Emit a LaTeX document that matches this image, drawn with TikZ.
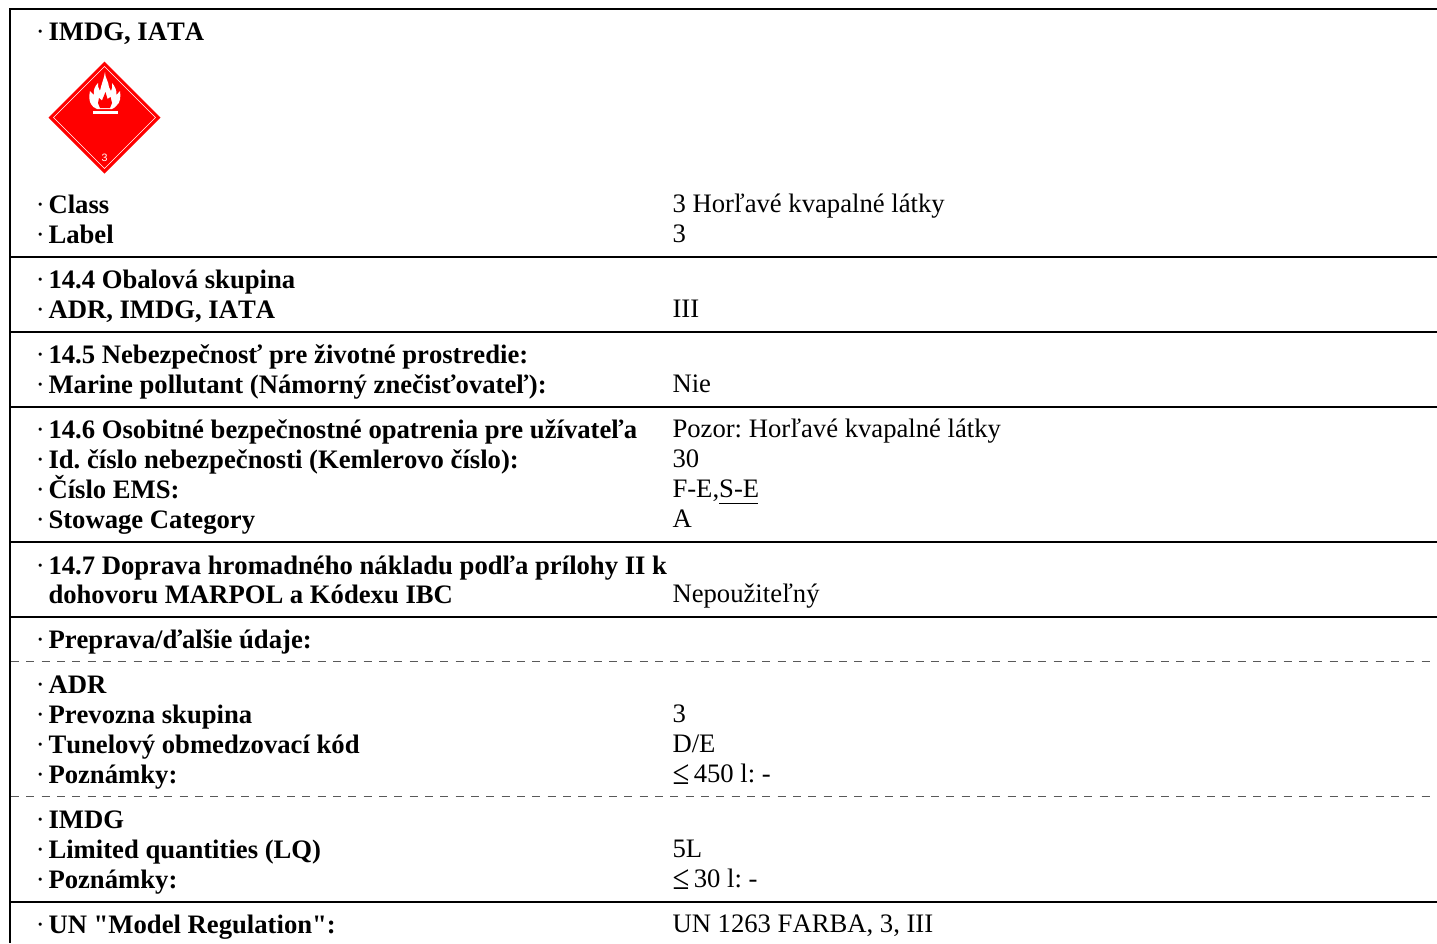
\documentclass[tikz,border=0pt]{standalone}
\usepackage{fontspec}
\setmainfont[Ligatures=TeXOff,Kerning=Off]{Liberation Serif}
\usetikzlibrary{calc}
\tikzset{
 x=0.75pt,y=-0.75pt,
 base/.style={inner sep=0pt,outer sep=0pt,anchor=base west,font=\fontsize{20}{24}\selectfont},
 lab/.style={base,font=\fontsize{20}{24}\selectfont\bfseries},
 dotm/.style={base,font=\fontsize{20}{24}\selectfont},
 val/.style={base},
 rule/.style={draw=black,line width=1.5pt},
 dashrule/.style={draw=black!65,line width=0.9pt,dash pattern=on 6pt off 5.5pt},
}
\newcommand{\lr}[4]{\node[dotm] (d#1) at (36,#3) {·}; \node[lab] (#1) at (48.5,#3) {#2}; \ifx&#4&\else\node[val] (v#1) at (672.5,#3-1) {#4};\fi}
\newcommand{\leqm}{\rlap{\raisebox{-1.6pt}{\scalebox{1.15}[1.3]{≤}}}\phantom{≤}}
\begin{document}
\frenchspacing
\begin{tikzpicture}
\useasboundingbox (0,0) rectangle (1437,943);
\fill[white] (0,0) rectangle (1437,943);
% frame
\draw[rule] (1437,8.5) -- (9.5,8.5) -- (9.5,943);
\foreach \yy in {256.5,331.5,406.5,541.5,616.5,901.5} \draw[rule] (9.5,\yy) -- (1437,\yy);
\foreach \yy in {661.5,796.5} \draw[dashrule] (11,\yy) -- (1437,\yy);
% placard
\fill[red] (104.5,61.5) -- (160.5,117.5) -- (104.5,173.5) -- (48.5,117.5) -- cycle;
\draw[white,line width=0.3pt] (104.5,66.5) -- (155.5,117.5) -- (104.5,168.5) -- (53.5,117.5) -- cycle;
\fill[white] (93,111) rectangle (118,114);
\fill[white] (105,72) .. controls (105,78) and (108.5,81) .. (109,87) -- (111,91) .. controls (112.5,89) and (112.5,86) .. (112,83)
 .. controls (115,86) and (117,91) .. (116.5,95) -- (120,91) .. controls (121,97) and (120,103) .. (117,105) .. controls (116,107) and (114,108) .. (112,109)
 -- (97,109) .. controls (94,108) and (92,106) .. (91,104) .. controls (89,101) and (89,96) .. (90,91) -- (94,95) .. controls (93,90) and (95,86) .. (98,83)
 .. controls (98,86) and (98,88) .. (100,91) .. controls (101,85) and (104,79) .. (105,72) -- cycle;
\fill[red] (105.5,92) -- (107.5,99) -- (110.5,97) -- (112,103) -- (110,108) -- (100,108) -- (98,103) -- (99,98) -- (102,100.5) -- cycle;
\node[inner sep=0pt,text=white,font=\fontspec{Liberation Sans}\fontsize{8}{9}\selectfont] (n3) at (104.5,158) {3};
% text
\lr{a}{IMDG, IATA}{40}{}
\lr{b}{Class}{213}{3 Horľavé kvapalné látky}
\lr{c}{Label}{243}{3}
\lr{e}{14.4 Obalová skupina}{288}{}
\lr{f}{ADR, IMDG, IATA}{318}{III}
\lr{g}{14.5 Nebezpečnosť pre životné prostredie:}{363}{}
\lr{h}{Marine pollutant (Námorný znečisťovateľ):}{393}{Nie}
\lr{i}{14.6 Osobitné bezpečnostné opatrenia pre užívateľa}{438}{Pozor: Horľavé kvapalné látky}
\lr{j}{Id. číslo nebezpečnosti (Kemlerovo číslo):}{468}{30}
\lr{k}{Číslo EMS:}{498}{F-E,S-E}
\lr{l}{Stowage Category}{528}{A}
\lr{m}{14.7 Doprava hromadného nákladu podľa prílohy II k}{574}{}
\node[lab] (m2) at (48.5,603) {dohovoru MARPOL a Kódexu IBC};
\node[val] (vm) at (672.5,602) {Nepoužiteľný};
\lr{n}{Preprava/ďalšie údaje:}{648}{}
\lr{o}{ADR}{693}{}
\lr{p}{Prevozna skupina}{723}{3}
\lr{q}{Tunelový obmedzovací kód}{753}{D/E}
\lr{r}{Poznámky:}{783}{\leqm{} 450 l: -}
\lr{s}{IMDG}{828}{}
\lr{t}{Limited quantities (LQ)}{858}{5L}
\lr{u}{Poznámky:}{888}{\leqm{} 30 l: -}
\lr{w}{UN "Model Regulation":}{933}{UN 1263 FARBA, 3, III}
\draw[line width=0.8pt] (719,503.5) -- (758,503.5);
\end{tikzpicture}
\end{document}
